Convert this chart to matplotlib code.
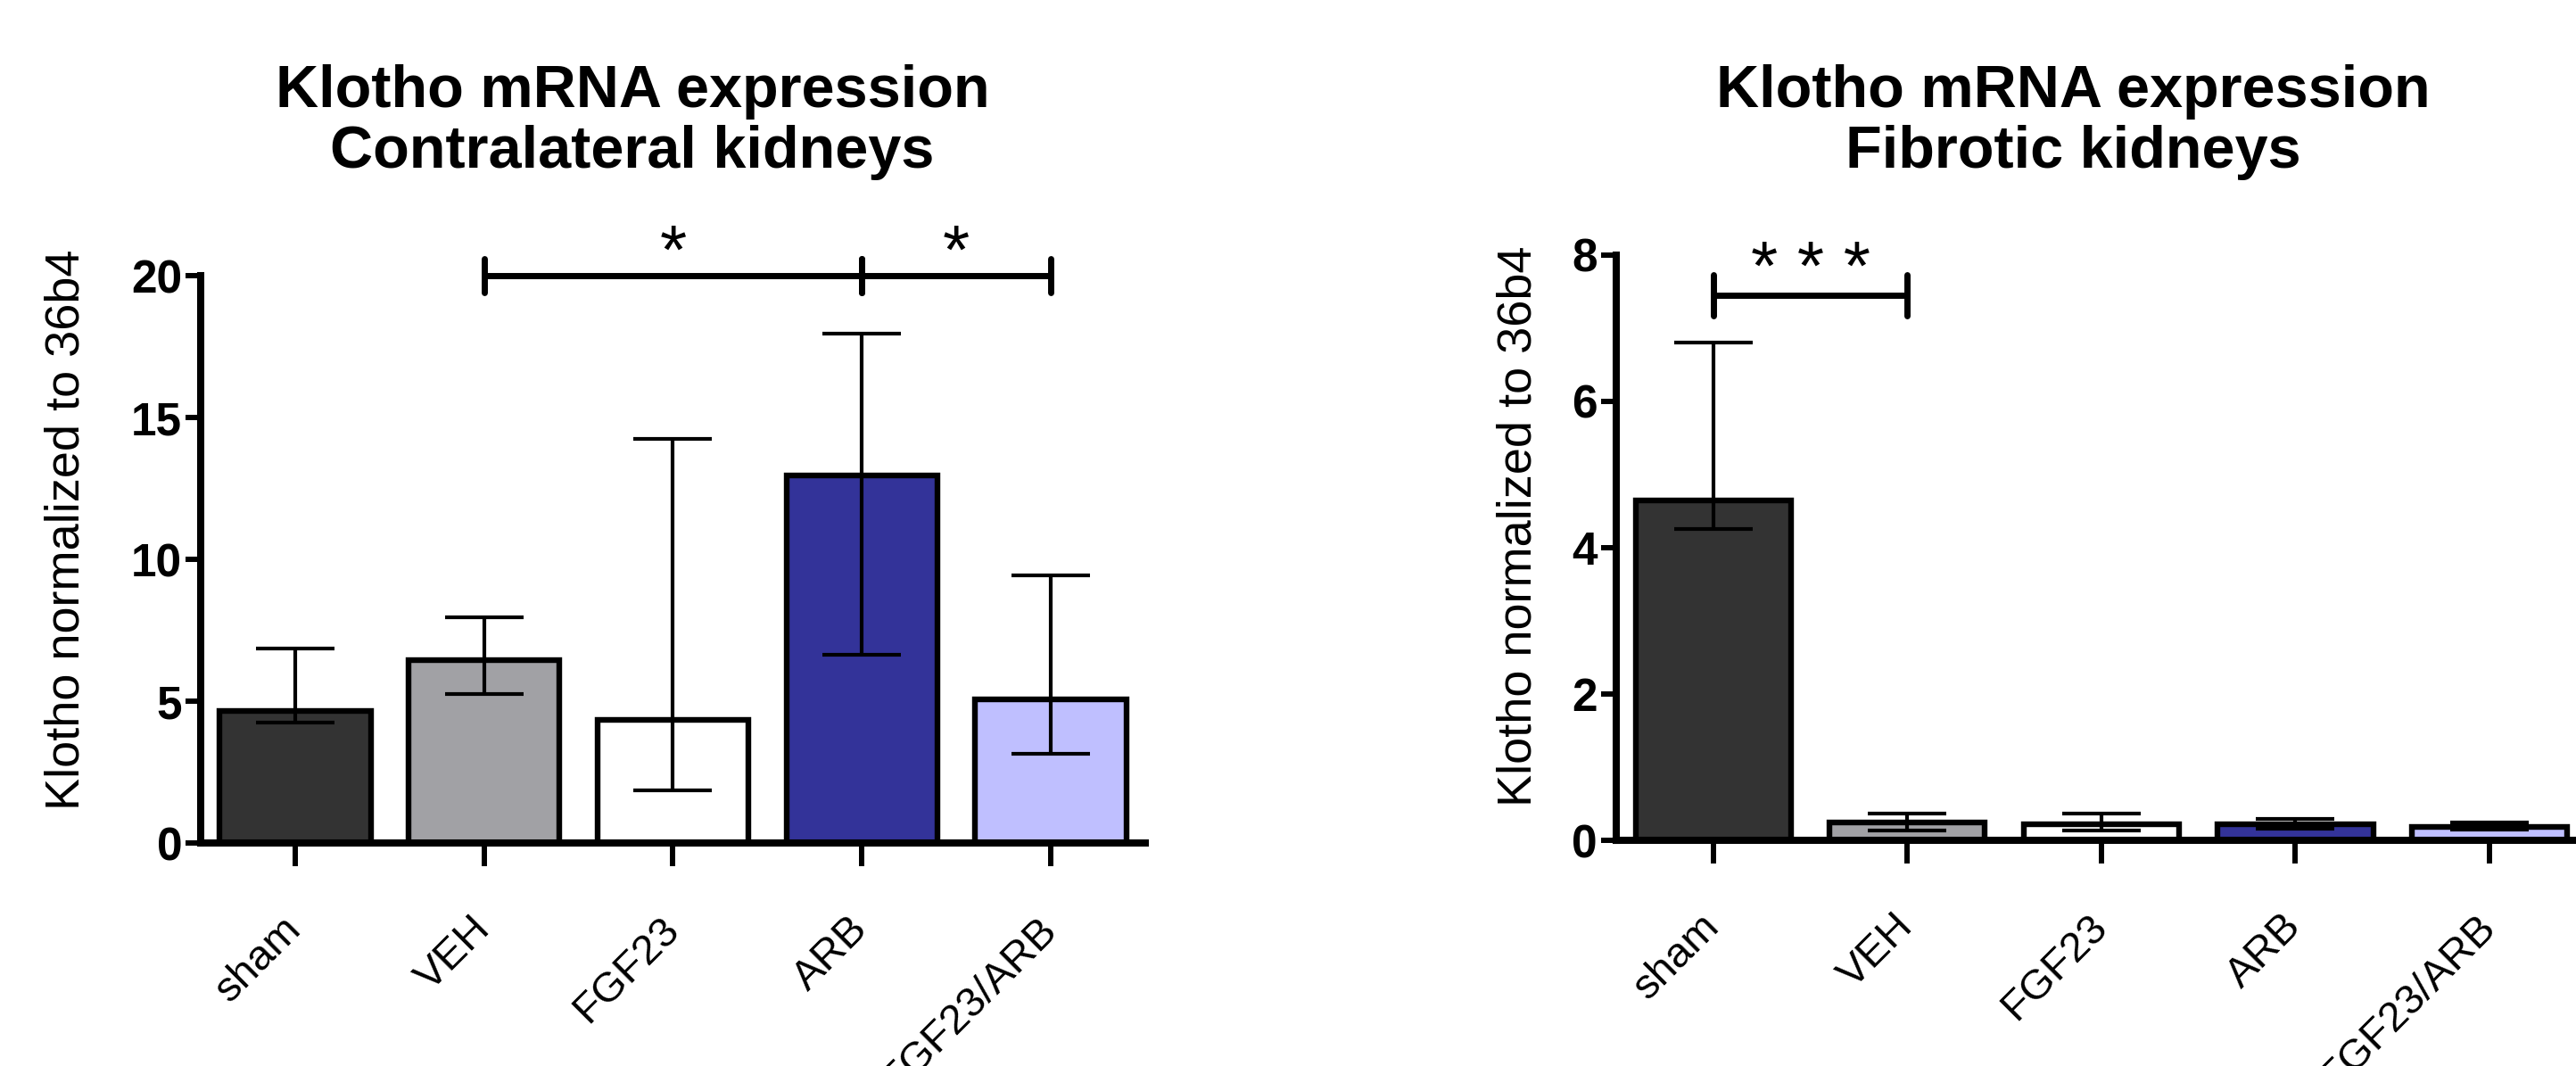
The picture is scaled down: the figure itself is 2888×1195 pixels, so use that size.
import matplotlib
matplotlib.use("Agg")
import matplotlib.pyplot as plt
import matplotlib.transforms as mtransforms
import numpy as np

# ---------------- data ----------------
groups = ["sham", "VEH", "FGF23", "ARB", "FGF23/ARB"]
bar_colors = ["#333333", "#a1a1a5", "#ffffff", "#333399", "#bfbfff"]

# Contralateral kidneys (bar value, lower whisker, upper whisker)
contra_vals = [4.65, 6.45, 4.35, 12.95, 5.05]
contra_low = [4.25, 5.25, 1.85, 6.65, 3.15]
contra_high = [6.85, 7.95, 14.25, 17.95, 9.45]

# Fibrotic kidneys
fib_vals = [4.65, 0.25, 0.22, 0.22, 0.18]
fib_low = [4.25, 0.14, 0.13, 0.16, 0.15]
fib_high = [6.80, 0.37, 0.37, 0.29, 0.25]

contra_yticks = [0, 5, 10, 15, 20]
fib_yticks = [0, 2, 4, 6, 8]

# significance brackets: (x_start, x_end, y, label)
contra_sig = [(1, 3, 20.0, "*"), (3, 4, 20.0, "*")]
fib_sig = [(0, 1, 7.45, "* * *")]

ylabel = "Klotho normalized to 36b4"
title_contra = "Klotho mRNA expression\nContralateral kidneys"
title_fib = "Klotho mRNA expression\nFibrotic kidneys"

plt.rcParams["font.family"] = ["Liberation Sans", "DejaVu Sans"]

fig = plt.figure(figsize=(28.88, 11.95), dpi=100)
ax1 = fig.add_axes([0.0779, 0.2092, 0.3667, 0.5322])
ax2 = fig.add_axes([0.6274, 0.2117, 0.3767, 0.5490])


def draw_panel(ax, vals, low, high, yticks, sig, sig_half, star_dy, ylab_x, ylab_y):
    x = np.arange(len(groups))
    ax.bar(x, vals, width=0.80, color=bar_colors, edgecolor="black",
           linewidth=4.6, zorder=2)
    vals_a = np.array(vals)
    yerr = [vals_a - np.array(low), np.array(high) - vals_a]
    ax.errorbar(x, vals, yerr=yerr, fmt="none", ecolor="black",
                elinewidth=3.0, capsize=32, capthick=3.0, zorder=3)
    ax.set_xlim(-0.5, 4.5)
    ax.set_ylim(yticks[0], yticks[-1])
    ax.set_yticks(yticks)
    ax.set_yticklabels([str(t) for t in yticks], fontsize=37, fontweight="bold")
    ax.set_xticks(x)
    ax.set_xticklabels(groups, fontsize=34, rotation=45, ha="right",
                       va="center", rotation_mode="anchor")
    offset = mtransforms.ScaledTranslation(8 / 100, 0, fig.dpi_scale_trans)
    for lab in ax.get_xticklabels():
        lab.set_transform(lab.get_transform() + offset)
    for s in ["top", "right"]:
        ax.spines[s].set_visible(False)
    for s in ["left", "bottom"]:
        ax.spines[s].set_linewidth(5.8)
        ax.spines[s].set_capstyle("projecting")
    ax.tick_params(axis="y", direction="out", length=12, width=4.3, pad=3)
    ax.tick_params(axis="x", direction="out", length=19, width=4.3, pad=46)
    ax.set_ylabel(ylabel, fontsize=39, va="center", rotation_mode="anchor")
    ax.yaxis.set_label_coords(ylab_x, ylab_y)
    for (xa, xb, yv, lab) in sig:
        ax.plot([xa, xb], [yv, yv], color="black", lw=5.0, clip_on=False,
                solid_capstyle="butt", zorder=4)
        for xe in (xa, xb):
            ax.plot([xe, xe], [yv - sig_half, yv + sig_half], color="black",
                    lw=5.0, clip_on=False, solid_capstyle="round", zorder=4)
        ax.text((xa + xb) / 2, yv + star_dy, lab, ha="center", va="center",
                fontsize=56, clip_on=False)


draw_panel(ax1, contra_vals, contra_low, contra_high, contra_yticks,
           contra_sig, 0.6, 0.72, -0.142, 0.553)
draw_panel(ax2, fib_vals, fib_low, fib_high, fib_yticks,
           fib_sig, 0.28, 0.33, -0.101, 0.537)

fig.text(709 / 2888, 1 - 137 / 1195, title_contra, ha="center", va="center",
         fontsize=48, fontweight="bold", linespacing=1.14)
fig.text(2324 / 2888, 1 - 137 / 1195, title_fib, ha="center", va="center",
         fontsize=48, fontweight="bold", linespacing=1.14)

fig.savefig("out.png", dpi=100, facecolor="white")
